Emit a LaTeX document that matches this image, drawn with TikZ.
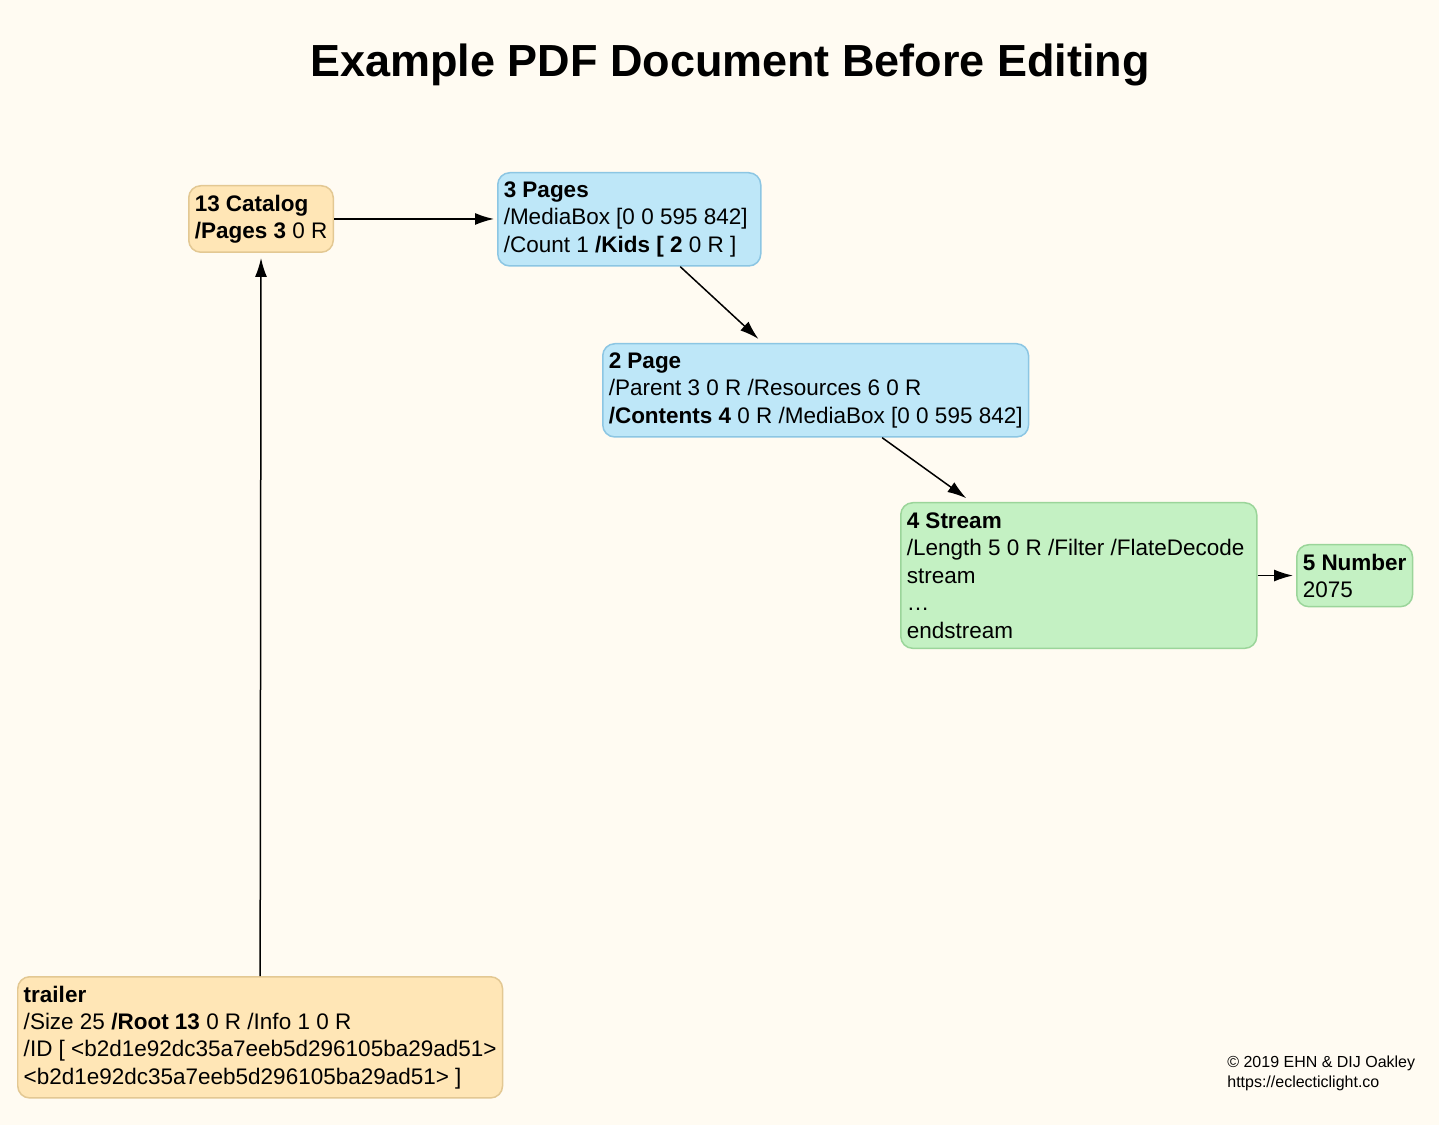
\documentclass[tikz,border=0pt]{standalone}
\usepackage{fontspec}
\setmainfont{Liberation Sans}
\usetikzlibrary{arrows.meta}

\definecolor{bgcream}{HTML}{FFFBF2}
\definecolor{catfill}{HTML}{FFE6B6}
\definecolor{catline}{HTML}{E3C893}
\definecolor{pagefill}{HTML}{BEE7F8}
\definecolor{pageline}{HTML}{8CC6E3}
\definecolor{strfill}{HTML}{C4F1C3}
\definecolor{strline}{HTML}{9BD59A}

\tikzset{
  objbox/.style={draw, line width=0.03cm, rounded corners=0.24cm, anchor=north west,
    align=flush left, inner xsep=0.12cm, inner ysep=0.18cm,
    font=\fontsize{12.8}{15.6}\selectfont},
  catbox/.style={objbox, fill=catfill, draw=catline},
  pagebox/.style={objbox, fill=pagefill, draw=pageline},
  strbox/.style={objbox, fill=strfill, draw=strline},
  ref/.style={line width=0.03cm, -{Latex[length=0.38cm,width=0.24cm]}, shorten >=0.06cm}
}

\begin{document}
\begin{tikzpicture}
  % page and background
  \fill[bgcream] (0,0) rectangle (28.78,-22.5);
  \useasboundingbox (0,0) rectangle (28.78,-22.5);

  \node[anchor=base, font=\fontsize{25.6}{30}\selectfont\bfseries] (title) at (14.6,-1.54)
    {Example PDF Document Before Editing};

  % objects
  \node[catbox] (cat) at (3.76,-3.70) {\textbf{13 Catalog}\\\textbf{/Pages 3} 0 R};
  \node[pagebox, text width=5.02cm] (pages) at (9.94,-3.44)
    {\textbf{3 Pages}\\/MediaBox [0 0 595 842]\\/Count 1 \textbf{/Kids [ 2} 0 R ]};
  \node[pagebox] (page) at (12.04,-6.86)
    {\textbf{2 Page}\\/Parent 3 0 R /Resources 6 0 R\\\textbf{/Contents 4} 0 R /MediaBox [0 0 595 842]};
  \node[strbox, text width=6.88cm, inner ysep=0.2cm] (stream) at (18.0,-10.04)
    {\textbf{4 Stream}\\/Length 5 0 R /Filter /FlateDecode\\stream\\…\\endstream};
  \node[strbox] (num) at (25.92,-10.88) {\textbf{5 Number}\\2075};
  \node[catbox] (trailer) at (0.34,-19.52)
    {\textbf{trailer}\\/Size 25 \textbf{/Root 13} 0 R /Info 1 0 R\\/ID [ <b2d1e92dc35a7eeb5d296105ba29ad51>\\<b2d1e92dc35a7eeb5d296105ba29ad51> ]};

  % references
  \def\offA{1.02}
  \def\offB{1.1}
  \def\offC{1.33}
  \def\offD{2.2}
  \draw[ref] (cat.east) -- (pages.west |- cat.east);% catalog to pages
  \draw[ref] ([xshift=\offA cm]pages.south) -- ([xshift=-\offB cm, yshift=0.04cm]page.north);% kids
  \draw[ref] ([xshift=\offC cm]page.south) -- ([xshift=-\offD cm, yshift=0.04cm]stream.north);% contents
  \draw[ref] (stream.east) -- (num.west |- stream.east);% length
  \draw[ref, shorten >=0.1cm] (trailer.north) -- (cat.south);% root

  % credit
  \node[anchor=north west, align=left, inner sep=0, font=\fontsize{9.1}{11.4}\selectfont] (credit)
    at (24.54,-21.12) {© 2019 EHN \& DIJ Oakley\\https://eclecticlight.co};
\end{tikzpicture}
\end{document}
